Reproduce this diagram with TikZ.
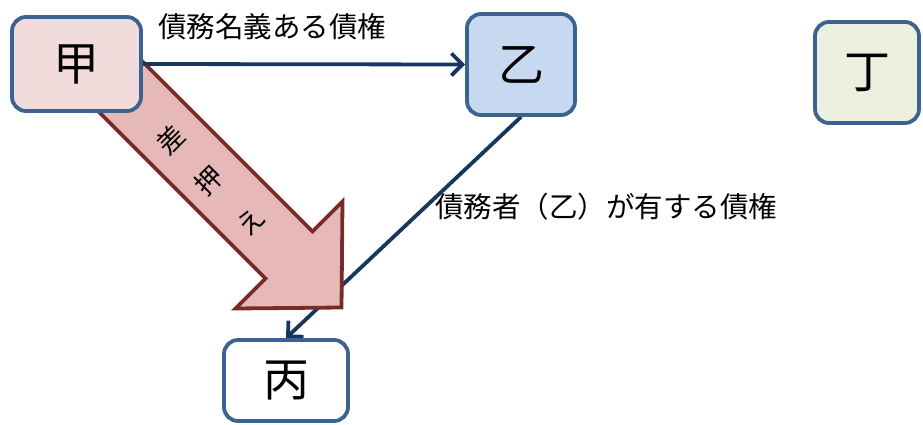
\documentclass[tikz,border=0pt]{standalone}
\usepackage{fontspec}
\setmainfont{Noto Sans CJK JP}
\usetikzlibrary{arrows.meta}
\definecolor{boxline}{RGB}{60,98,145}
\definecolor{kofill}{RGB}{242,220,219}
\definecolor{otsufill}{RGB}{198,217,241}
\definecolor{teifill}{RGB}{235,241,222}
\definecolor{arrfill}{RGB}{230,185,184}
\definecolor{arrline}{RGB}{119,44,42}
\definecolor{navy}{RGB}{23,55,94}
\pgfdeclarelayer{bg}
\pgfdeclarelayer{mid}
\pgfsetlayers{bg,mid,main}
\tikzset{
  party/.style={draw=boxline, line width=3.8pt, rounded corners=14pt, font=\fontsize{46}{46}\selectfont, inner sep=0pt},
  conn/.style={draw=navy, line width=3.8pt, -{Straight Barb[length=11pt,width=22pt,line width=3.8pt]}},
  lbl/.style={font=\fontsize{28.5}{28.5}\selectfont, inner sep=0pt, anchor=west},
  vchar/.style={font=\fontsize{27}{27}\selectfont, inner sep=0pt, rotate=45},
  blockarrow/.style={fill=arrfill, draw=arrline, line width=3.8pt, line join=miter}
}
\begin{document}
\begin{tikzpicture}[x=1pt,y=-1pt]
\useasboundingbox (0,0) rectangle (923,425);
\node[party, fill=kofill, minimum width=129pt, minimum height=94pt] (ko) at (76.5,64) {甲};
\node[party, fill=otsufill, minimum width=108pt, minimum height=101pt] (otsu) at (521,64.5) {乙};
\node[party, fill=teifill, minimum width=104pt, minimum height=101pt] (tei) at (867,72.5) {丁};
\node[party, fill=white, minimum width=124pt, minimum height=81pt] (hei) at (286,380.5) {丙};
\draw[conn] (ko.east) -- (otsu.west);
\begin{pgfonlayer}{bg}
\draw[conn] (otsu.south) -- (hei.north);
\end{pgfonlayer}
\begin{pgfonlayer}{mid}
\draw[blockarrow] (115.5,34.5) -- (312.5,231.5) -- (342.5,201.5) -- (341.5,307.5) -- (235.5,308.5) -- (265.5,278.5) -- (68.5,81.5) -- cycle;
\node[vchar] (c1) at (171,140) {差};
\node[vchar] (c2) at (209,181) {押};
\node[vchar] (c3) at (251,222) {え};
\end{pgfonlayer}
\node[lbl] (l1) at (158,27) {債務名義ある債権};
\node[lbl] (l2) at (435,207) {債務者（乙）が有する債権};
\end{tikzpicture}
\end{document}
